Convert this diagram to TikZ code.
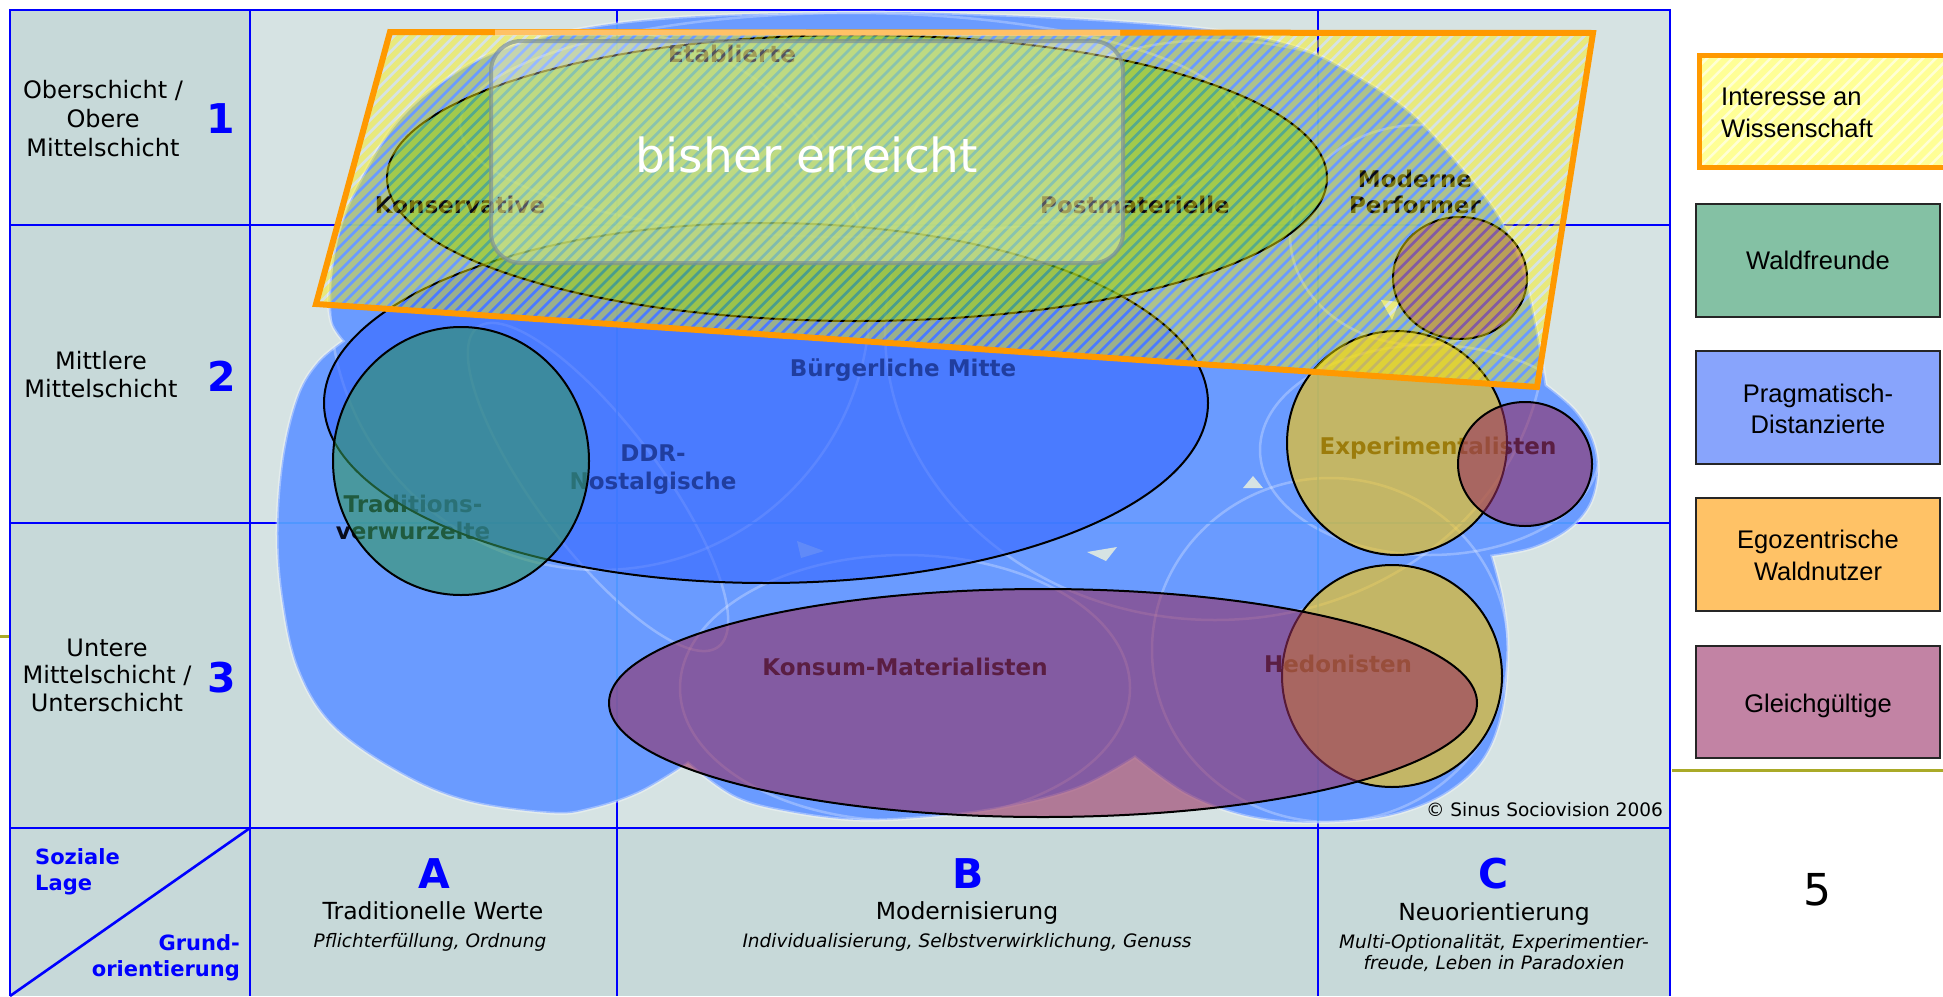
\documentclass[tikz,border=0pt]{standalone}
\usepackage{fontspec}
\setmainfont{DejaVu Sans}
\newfontfamily\legfont{Liberation Sans}
\definecolor{bgmain}{RGB}{214,227,227}
\definecolor{bgside}{RGB}{199,217,217}
\definecolor{gridblue}{RGB}{0,0,255}
\definecolor{blobc}{RGB}{106,155,255}
\definecolor{buerg}{RGB}{51,100,255}
\definecolor{wald}{RGB}{50,150,90}
\definecolor{waldtop}{RGB}{75,180,70}
\definecolor{egoc}{RGB}{255,200,0}
\definecolor{gleich}{RGB}{150,45,95}
\definecolor{orng}{RGB}{255,153,0}
\definecolor{labtxt}{RGB}{8,10,28}
\definecolor{legwald}{RGB}{132,193,164}
\definecolor{legprag}{RGB}{136,164,252}
\definecolor{legego}{RGB}{255,194,102}
\definecolor{leggleich}{RGB}{194,131,164}
\definecolor{legyel}{RGB}{255,255,150}
\definecolor{olivec}{RGB}{170,170,40}
\definecolor{faintgrid}{RGB}{70,150,255}
\definecolor{boxgray}{RGB}{125,145,150}
\newcommand\myblob{plot[smooth,tension=0.6] coordinates {(343,341) (331,322) (329,290) (338,235) (358,185) (398,120) (450,76) (505,48) (590,27) (700,16) (870,12) (1000,15) (1130,22) (1230,32) (1300,48) (1350,72) (1410,112) (1461,167) (1500,218) (1523,270) (1537,330) (1546,385)}
 -- plot[smooth,tension=0.6] coordinates {(1546,385) (1575,410) (1593,440) (1598,472) (1590,505) (1568,530) (1533,548) (1492,556)}
 -- plot[smooth,tension=0.6] coordinates {(1492,556) (1503,600) (1508,650) (1502,713) (1483,760) (1447,793) (1400,813) (1350,821) (1290,822) (1238,814) (1185,793) (1135,757)}
 -- plot[smooth,tension=0.6] coordinates {(1135,757) (1080,787) (1010,806) (940,816) (860,820) (790,812) (735,797) (688,763)}
 -- plot[smooth,tension=0.6] coordinates {(688,763) (640,792) (590,809) (550,813) (467,801) (400,773) (333,726) (298,670) (282,600) (277,530) (283,455) (298,395) (318,362) (343,341)} -- cycle}
\newcommand\hatchshape{(390,32) -- (1593,33) -- (1537,387) -- (316,304) -- cycle}
\begin{document}
\begin{tikzpicture}[x=1pt,y=-1pt,
  gridl/.style={draw=gridblue,line width=2.6pt},
  texture/.style={draw=white,draw opacity=0.28,line width=2.5pt},
  overlay/.style={draw=black,line width=2pt},
  milieu/.style={text=labtxt,font=\bfseries\fontsize{23}{27}\selectfont,anchor=base,inner sep=0pt},
  side/.style={text=black,font=\fontsize{24}{29}\selectfont,anchor=base,inner sep=0pt},
  num/.style={text=gridblue,font=\bfseries\fontsize{41}{48}\selectfont,anchor=base,inner sep=0pt},
  smallblue/.style={text=gridblue,font=\bfseries\fontsize{21}{25}\selectfont,anchor=base,inner sep=0pt},
  legtxt/.style={text=black,font=\legfont\fontsize{25.5}{30}\selectfont,anchor=base,inner sep=0pt},
  bottxt/.style={text=black,font=\fontsize{23.5}{28}\selectfont,anchor=base,inner sep=0pt},
  botit/.style={text=black,font=\itshape\fontsize{18.5}{22}\selectfont,anchor=base,inner sep=0pt},
  legbox/.style={draw=black!85,line width=2.5pt}]
\useasboundingbox (0,0) rectangle (1943,996);
% backgrounds
\fill[white] (0,0) rectangle (1943,996);
\fill[bgside] (10,10) rectangle (250,828);
\fill[bgmain] (250,10) rectangle (1670,828);
\fill[bgside] (10,828) rectangle (1670,996);
% grid
\draw[gridl] (10,996) -- (10,10) -- (1670,10) -- (1670,996);
\draw[gridl] (250,10) -- (250,996);
\draw[gridl] (617,10) -- (617,996);
\draw[gridl] (1318,10) -- (1318,996);
\draw[gridl] (10,225) -- (1670,225);
\draw[gridl] (10,523) -- (1670,523);
\draw[gridl] (10,828) -- (1670,828);
\draw[gridl] (250,828) -- (10,996);
\draw[olivec,line width=3pt] (0,636) -- (9,636);
\draw[olivec,line width=3pt] (1672,770) -- (1943,770);
% blob (Pragmatisch-Distanzierte)
\fill[blobc] \myblob;
\begin{scope}
\clip \myblob;
\draw[texture,rotate around={-53:(598,487)}] (598,487) ellipse [x radius=200pt,y radius=62pt];
\draw[texture] (905,688) ellipse [x radius=225pt,y radius=133pt];
\draw[texture] (1330,650) ellipse [x radius=178pt,y radius=172pt];
\draw[texture] (1430,450) ellipse [x radius=170pt,y radius=105pt];
\draw[texture] (600,300) circle [radius=270pt];
\draw[texture] (850,125) ellipse [x radius=390pt,y radius=112pt];
\draw[texture] (1215,330) ellipse [x radius=330pt,y radius=290pt];
\draw[texture] (1420,235) ellipse [x radius=130pt,y radius=110pt];
\draw[faintgrid,line width=2pt,opacity=0.7] (617,10) -- (617,828) (1318,10) -- (1318,828) (250,225) -- (1670,225) (250,523) -- (1670,523);
\end{scope}
\draw[white,opacity=0.35,line width=3pt] \myblob;
% small gaps between the milieu shapes
\fill[bgmain] (1087,552) -- (1117,547) -- (1106,561) -- cycle;
\fill[bgmain] (1243,488) -- (1263,488) -- (1253,476) -- cycle;
\fill[bgmain] (1381,300) -- (1399,302) -- (1392,320) -- cycle;
\fill[bgmain,opacity=0.5] (797,541) -- (824,551) -- (801,558) -- cycle;
% base milieu labels
\node[milieu] (lbm) at (903,376) {Bürgerliche Mitte};
\node[milieu] (lddr) at (653,461) {DDR-};
\node[milieu] (lnost) at (653,489.5) {Nostalgische};
\node[milieu] (ltrad) at (413,512.5) {Traditions-};
\node[milieu] (lverw) at (413,539) {verwurzelte};
\node[milieu] (lexp) at (1438,454) {Experimentalisten};
\node[milieu] (lkons) at (905,675) {Konsum-Materialisten};
\node[milieu] (lhed) at (1338,672) {Hedonisten};
% overlays (target groups)
\fill[buerg,fill opacity=0.58] (766,403) ellipse [x radius=442pt,y radius=180pt];
\draw[overlay] (766,403) ellipse [x radius=442pt,y radius=180pt];
\fill[waldtop,fill opacity=0.62] (857,178) ellipse [x radius=470pt,y radius=143pt];
\draw[overlay] (857,178) ellipse [x radius=470pt,y radius=143pt];
\fill[wald,fill opacity=0.58] (461,461) ellipse [x radius=128pt,y radius=134pt];
\draw[overlay] (461,461) ellipse [x radius=128pt,y radius=134pt];
\fill[egoc,fill opacity=0.6] (1397,443) ellipse [x radius=110pt,y radius=112pt];
\draw[overlay] (1397,443) ellipse [x radius=110pt,y radius=112pt];
\fill[gleich,fill opacity=0.58] (1525,464) ellipse [x radius=67pt,y radius=62pt];
\draw[overlay] (1525,464) ellipse [x radius=67pt,y radius=62pt];
\fill[egoc,fill opacity=0.6] (1392,676) ellipse [x radius=110pt,y radius=111pt];
\draw[overlay] (1392,676) ellipse [x radius=110pt,y radius=111pt];
\fill[gleich,fill opacity=0.58] (1043,703) ellipse [x radius=434pt,y radius=114pt];
\draw[overlay] (1043,703) ellipse [x radius=434pt,y radius=114pt];
\fill[gleich,fill opacity=0.58] (1460,278) ellipse [x radius=67pt,y radius=61pt];
\draw[overlay] (1460,278) ellipse [x radius=67pt,y radius=61pt];
% labels in upper band
\node[milieu] (letab) at (732,62) {Etablierte};
\node[milieu] (lkonsv) at (460,213) {Konservative};
\node[milieu] (lpost) at (1135,213) {Postmaterielle};
\node[milieu] (lmod) at (1415,187) {Moderne};
\node[milieu] (lperf) at (1415,213) {Performer};
% interest in science (hatched)
\begin{scope}
\clip \hatchshape;
\foreach \c in {340,352.02,...,1995} {
  \draw[yellow,draw opacity=0.45,line width=5.5pt] (\c-420,420) -- (\c+10,-10);
}
\end{scope}
\draw[orng,line width=6pt,line join=miter] \hatchshape;
% bisher erreicht
\fill[white,fill opacity=0.3,rounded corners=30pt] (491,41) rectangle (1123,263);
\draw[boxgray,draw opacity=0.7,line width=4pt,rounded corners=30pt] (491,41) rectangle (1123,263);
\draw[white,opacity=0.4,line width=6pt] (495,32.5) -- (1120,33);
\node[text=white,font=\fontsize{47}{56}\selectfont,anchor=base,inner sep=0pt] (bisher) at (807,172) {bisher erreicht};
% left column
\node[side] (o1) at (103,98) {Oberschicht /};
\node[side] (o2) at (103,127) {Obere};
\node[side] (o3) at (103,156) {Mittelschicht};
\node[num] (n1) at (221,133) {1};
\node[side] (m1) at (101,369) {Mittlere};
\node[side] (m2) at (101,397) {Mittelschicht};
\node[num] (n2) at (222,391) {2};
\node[side] (u1) at (107,656) {Untere};
\node[side] (u2) at (107,683) {Mittelschicht /};
\node[side] (u3) at (107,711) {Unterschicht};
\node[num] (n3) at (222,692) {3};
% bottom strip
\node[smallblue,anchor=base west] (soz) at (35,864) {Soziale};
\node[smallblue,anchor=base west] (lage) at (35,890) {Lage};
\node[smallblue,anchor=base east] (grund) at (240,950) {Grund-};
\node[smallblue,anchor=base east] (orient) at (240,976) {orientierung};
\node[num] (ca) at (434,888) {A};
\node[bottxt] (ta) at (433,919) {Traditionelle Werte};
\node[botit] (ia) at (430,947) {Pflichterfüllung, Ordnung};
\node[num] (cb) at (968,888) {B};
\node[bottxt] (tb) at (967,919) {Modernisierung};
\node[botit] (ib) at (967,947) {Individualisierung, Selbstverwirklichung, Genuss};
\node[num] (cc) at (1494,888) {C};
\node[bottxt] (tc) at (1494,920) {Neuorientierung};
\node[botit] (ic1) at (1494,948) {Multi-Optionalität, Experimentier-};
\node[botit] (ic2) at (1494,969) {freude, Leben in Paradoxien};
\node[text=black,font=\fontsize{18.5}{22}\selectfont,anchor=base east,inner sep=0pt] (copy) at (1663,816) {© Sinus Sociovision 2006};
\node[text=black,font=\fontsize{44}{52}\selectfont,anchor=base,inner sep=0pt] (page) at (1817,905) {5};
% legend
\fill[legyel] (1697,53) rectangle (1950,170);
\begin{scope}
\clip (1697,53) rectangle (1950,170);
\foreach \c in {1740,1752.7,...,2130} {
  \draw[white,draw opacity=0.6,line width=2.5pt] (\c-200,200) -- (\c+10,-10);
}
\end{scope}
\draw[orng,line width=5pt] (1699.5,55.5) rectangle (1952,167.5);
\node[legtxt,anchor=base west] (li1) at (1721,105) {Interesse an};
\node[legtxt,anchor=base west] (li2) at (1721,137) {Wissenschaft};
\filldraw[legbox,fill=legwald] (1696,204) rectangle (1940,317);
\node[legtxt] (lw) at (1818,269) {Waldfreunde};
\filldraw[legbox,fill=legprag] (1696,351) rectangle (1940,464);
\node[legtxt] (lp1) at (1818,402) {Pragmatisch-};
\node[legtxt] (lp2) at (1818,433) {Distanzierte};
\filldraw[legbox,fill=legego] (1696,498) rectangle (1940,611);
\node[legtxt] (le1) at (1818,548) {Egozentrische};
\node[legtxt] (le2) at (1818,580) {Waldnutzer};
\filldraw[legbox,fill=leggleich] (1696,646) rectangle (1940,758);
\node[legtxt] (lg) at (1818,712) {Gleichgültige};
\end{tikzpicture}
\end{document}
